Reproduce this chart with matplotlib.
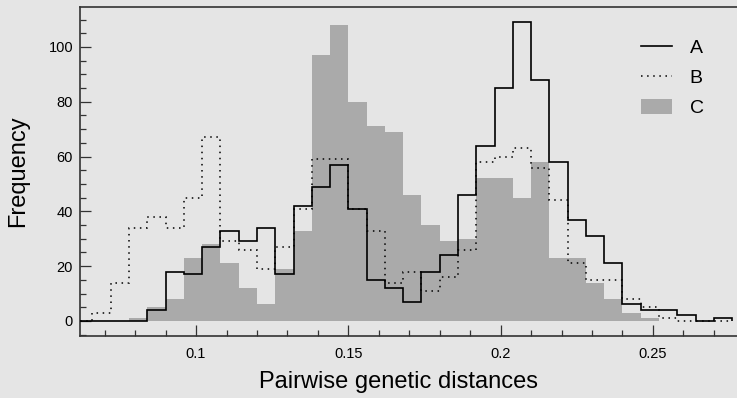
import numpy as np
import matplotlib
matplotlib.use("Agg")
import matplotlib.pyplot as plt
from matplotlib.ticker import MultipleLocator, FixedLocator
from matplotlib.patches import Patch
from matplotlib.lines import Line2D

plt.rcParams['font.family'] = ['Liberation Sans', 'DejaVu Sans']

# Histogram bin edges (width 0.006)
bin_edges = [0.060, 0.066, 0.072, 0.078, 0.084, 0.090, 0.096, 0.102, 0.108,
             0.114, 0.120, 0.126, 0.132, 0.138, 0.144, 0.150, 0.156, 0.162,
             0.168, 0.174, 0.180, 0.186, 0.192, 0.198, 0.204, 0.210, 0.216,
             0.222, 0.228, 0.234, 0.240, 0.246, 0.252, 0.258, 0.264, 0.270,
             0.276]

series_A = [0, 0, 0, 0, 4, 18, 17, 27, 33, 29, 34, 17, 42, 49, 57, 41, 15, 12,
            7, 18, 24, 46, 64, 85, 109, 88, 58, 37, 31, 21, 6, 4, 4, 2, 0, 1]
series_B = [0, 3, 14, 34, 38, 34, 45, 67, 29, 26, 19, 27, 41, 59, 59, 41, 33, 14,
            18, 11, 16, 26, 58, 60, 63, 56, 44, 21, 15, 15, 8, 5, 1, 0, 0, 0]
series_C = [0, 0, 0, 1, 5, 8, 23, 28, 21, 12, 6, 19, 33, 97, 108, 80, 71, 69,
            46, 35, 29, 30, 52, 52, 45, 58, 23, 23, 14, 8, 3, 1, 0, 0, 0, 0]

x_ticks = [0.1, 0.15, 0.2, 0.25]
x_tick_labels = ["0.1", "0.15", "0.2", "0.25"]
y_ticks = [0, 20, 40, 60, 80, 100]

bg = "#e5e5e5"
fill_c = "#aaaaaa"
spine_c = "#333333"

fig = plt.figure(figsize=(7.37, 3.98), dpi=100, facecolor=bg)
ax = fig.add_axes([80 / 737, 62 / 398, 1 - 80 / 737, 329 / 398])
ax.set_facecolor(bg)

ax.stairs(series_C, bin_edges, fill=True, color=fill_c, linewidth=0, zorder=1)
ax.stairs(series_B, bin_edges, color="black", linewidth=1.1,
          linestyle=(0, (1, 3)), zorder=2)
ax.stairs(series_A, bin_edges, color="black", linewidth=1.2, zorder=3)

ax.set_xlim(0.0619, 0.2776)
ax.set_ylim(-5.5, 114.6)

ax.xaxis.set_major_locator(FixedLocator(x_ticks))
ax.set_xticklabels(x_tick_labels)
ax.xaxis.set_minor_locator(MultipleLocator(0.01))
ax.yaxis.set_major_locator(FixedLocator(y_ticks))
ax.yaxis.set_minor_locator(MultipleLocator(5))

ax.tick_params(which="both", direction="in", color=spine_c, width=0.9,
               labelsize=10.5, labelcolor="black")
ax.tick_params(which="major", length=7.7)
ax.tick_params(which="minor", length=4)
ax.tick_params(axis="x", which="major", pad=8)
ax.tick_params(axis="y", which="major", pad=5)

for s in ["left", "bottom", "top"]:
    ax.spines[s].set_color(spine_c)
    ax.spines[s].set_linewidth(1.2)
ax.spines["right"].set_visible(False)

ax.set_xlabel("Pairwise genetic distances", fontsize=17, labelpad=10)
ax.xaxis.set_label_coords(0.485, -0.105, transform=ax.transAxes)
ax.xaxis.label.set_verticalalignment("top")
ax.set_ylabel("Frequency", fontsize=17, labelpad=14)

handles = [Line2D([], [], color="black", linewidth=1.2),
           Line2D([], [], color="black", linewidth=1.1, linestyle=(0, (1, 3))),
           Patch(facecolor=fill_c, edgecolor="none")]
leg = ax.legend(handles, ["A", "B", "C"], loc="upper right", frameon=False,
                fontsize=14, handlelength=1.6, handleheight=0.8,
                handletextpad=0.9, labelspacing=0.6,
                bbox_to_anchor=(0.976, 0.956))

fig.savefig("out.png", dpi=100, facecolor=bg)
